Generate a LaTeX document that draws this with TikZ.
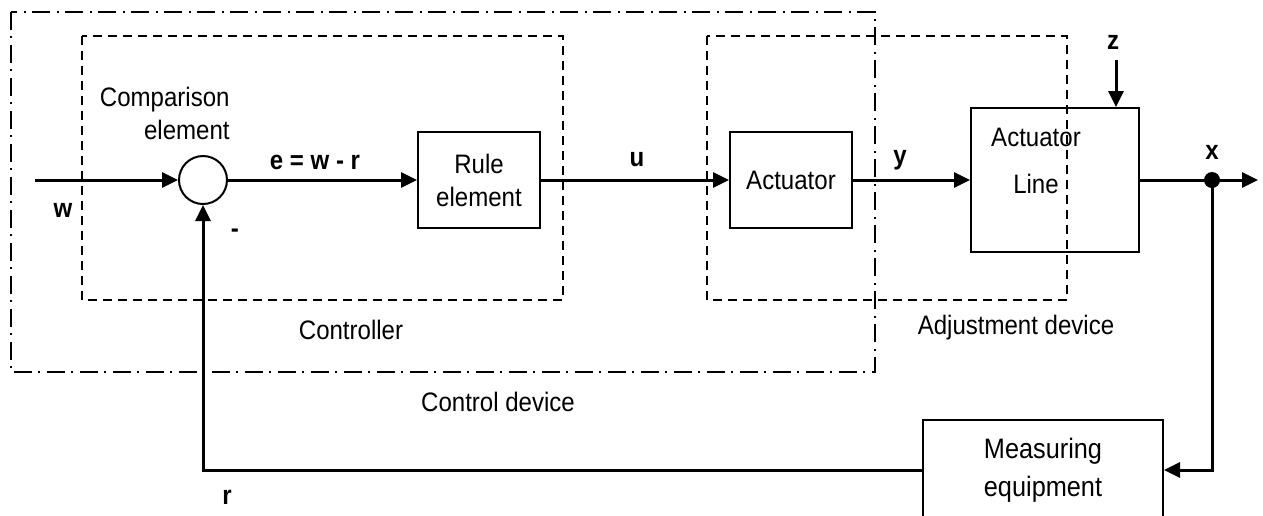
\documentclass[tikz,border=0pt]{standalone}
\usepackage{fontspec}
\setmainfont{Liberation Sans}[FakeStretch=0.9]
\usetikzlibrary{arrows.meta}

\begin{document}
\begin{tikzpicture}[x=0.1mm,y=-0.1mm,
    font=\fontsize{7.6}{9.4}\selectfont,
    blk/.style={draw,line width=0.2mm,minimum width=12.2mm,minimum height=9.6mm,align=center,inner sep=0pt},
    sig/.style={line width=0.3mm,-{Triangle[length=1.6mm,width=1.5mm]}},
    lbl/.style={font=\fontsize{7.6}{9.4}\selectfont\bfseries},
    grp/.style={line width=0.2mm,dash pattern=on 0.9mm off 0.6mm},
    outer/.style={line width=0.2mm,dash pattern=on 1.8mm off 0.6mm on 0.2mm off 0.7mm}]
    \useasboundingbox (0,0) rectangle (1263,515);
    \draw[outer] (11,12) rectangle (875,372);
    \draw[grp] (82,36) rectangle (563,300);
    \draw[grp] (707,36) rectangle (1067,300);
    \node[draw,circle,line width=0.2mm,minimum size=4.8mm,inner sep=0pt] (cmp) at (203,180) {};
    \node[blk] (rule) at (479,180) {Rule\\element};
    \node[blk] (act) at (791,180) {Actuator};
    \node[blk,minimum width=16.8mm,minimum height=14.4mm] (line) at (1055,180) {};
    \node[align=center] (linetxt) at (1036,161) {Actuator\\[4pt]Line};
    \node[blk,minimum width=24mm,minimum height=10mm,font=\fontsize{8}{9.4}\selectfont] (meas) at (1043,470) {Measuring\\[1.5pt]equipment};
    \coordinate (win) at (35,180);
    \coordinate (zin) at (1116,60);
    \coordinate (xout) at (1258,180);
    \coordinate (dot) at (1212,180);
    \draw[sig] (win) -- (cmp);
    \draw[sig] (cmp) -- (rule);
    \draw[sig] (rule) -- (act);
    \draw[sig] (act) -- (line);
    \draw[sig] (line) -- (xout);
    \draw[sig] (zin) -- (zin |- line.north);
    \draw[sig] (dot) |- (meas);
    \draw[sig] (meas) -| (cmp);
    \fill (dot) circle (0.8mm);
    \node[anchor=east,align=right] (cmptxt) at (242,113) {Comparison\\element};
    \node[lbl] (wlbl) at (63,210) {w};
    \node[lbl] (minus) at (235,233) {-};
    \node[lbl] (elbl) at (315,162) {e = w - r};
    \node[lbl] (ulbl) at (637,160) {u};
    \node[lbl] (ylbl) at (900,160) {y};
    \node[lbl] (zlbl) at (1113,42) {z};
    \node[lbl] (xlbl) at (1212,152) {x};
    \node[lbl] (rlbl) at (227,497) {r};
    \node (ctrllbl) at (351,330) {Controller};
    \node (devlbl) at (498,402) {Control device};
    \node (adjlbl) at (1016,328) {Adjustment device};
\end{tikzpicture}
\end{document}
